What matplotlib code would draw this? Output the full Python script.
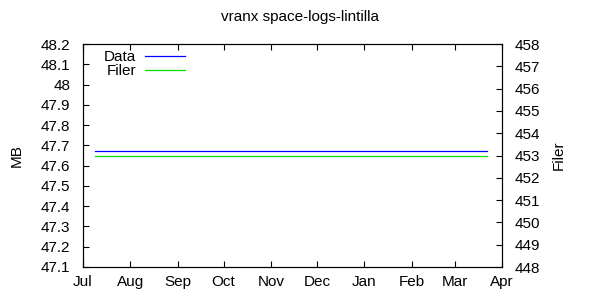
import numpy as np
import pandas as pd
import matplotlib.pyplot as plt
import matplotlib.dates as mdates

plt.rcParams['font.family'] = ['Liberation Sans', 'DejaVu Sans']
plt.rcParams['font.size'] = 11

dates = pd.to_datetime(['2012-07-09', '2013-03-22'])
data_mb = [47.67, 47.67]
filer = [453, 453]

fig = plt.figure(figsize=(6, 3), dpi=100)
ax = fig.add_axes([0.138, 0.11, 0.699, 0.743])
ax2 = ax.twinx()

l1, = ax.plot(dates, data_mb, color='#0000ff', lw=0.9, label='Data')
l2, = ax2.plot(dates, filer, color='#00dd00', lw=0.9, label='Filer')

ax.set_xlim(pd.Timestamp('2012-07-01'), pd.Timestamp('2013-04-01'))
ax.set_ylim(47.1, 48.2)
ax.set_yticks(np.arange(47.1, 48.21, 0.1))
ax.set_yticklabels(['47.1', '47.2', '47.3', '47.4', '47.5', '47.6', '47.7',
                    '47.8', '47.9', '48', '48.1', '48.2'])
ax2.set_ylim(448, 458)
ax2.set_yticks(range(448, 459))

ax.xaxis.set_major_locator(mdates.MonthLocator())
ax.xaxis.set_major_formatter(mdates.DateFormatter('%b'))

ax.tick_params(axis='x', direction='in', length=4, width=0.8, top=True, pad=6)
ax.tick_params(axis='y', direction='in', length=4, width=0.8, pad=9)
ax2.tick_params(axis='y', direction='in', length=4, width=0.8, pad=9)
for a in (ax, ax2):
    for s in a.spines.values():
        s.set_linewidth(0.8)

ax.set_ylabel('MB', labelpad=12)
ax2.set_ylabel('Filer', labelpad=8)
fig.suptitle('vranx space-logs-lintilla', y=0.965, fontsize=11)

ax.legend([l1, l2], ['Data', 'Filer'], loc='upper left', bbox_to_anchor=(0.028, 1.013),
          frameon=False, markerfirst=False, handlelength=2.6, labelspacing=0.0,
          handletextpad=0.6, borderaxespad=0.2)

fig.savefig('out.png', dpi=100)
